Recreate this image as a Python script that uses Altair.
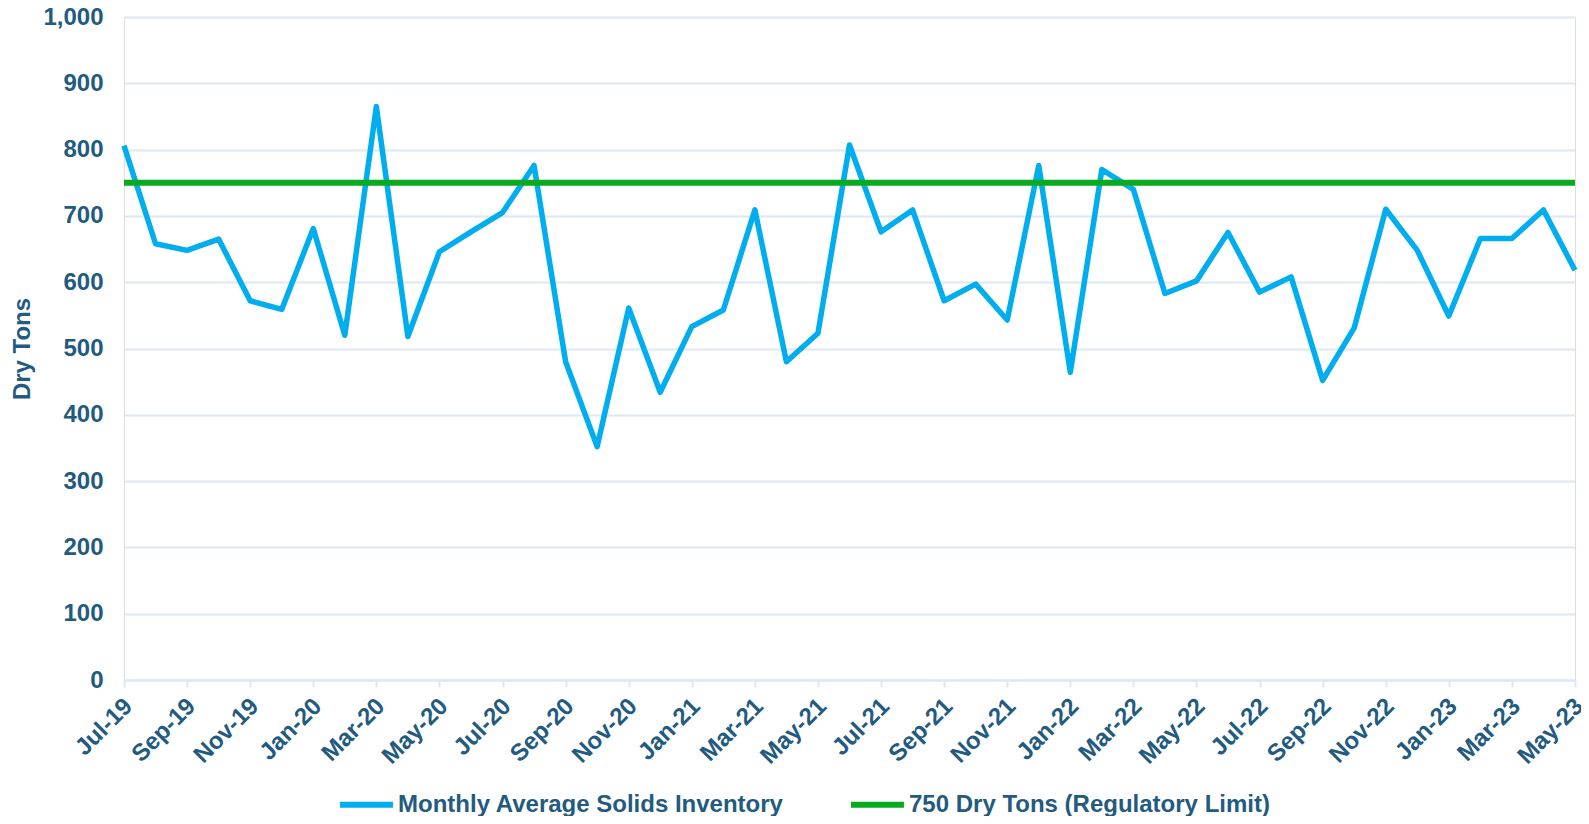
import altair as alt
import pandas as pd

months = [
    "Jul-19", "Aug-19", "Sep-19", "Oct-19", "Nov-19", "Dec-19",
    "Jan-20", "Feb-20", "Mar-20", "Apr-20", "May-20", "Jun-20",
    "Jul-20", "Aug-20", "Sep-20", "Oct-20", "Nov-20", "Dec-20",
    "Jan-21", "Feb-21", "Mar-21", "Apr-21", "May-21", "Jun-21",
    "Jul-21", "Aug-21", "Sep-21", "Oct-21", "Nov-21", "Dec-21",
    "Jan-22", "Feb-22", "Mar-22", "Apr-22", "May-22", "Jun-22",
    "Jul-22", "Aug-22", "Sep-22", "Oct-22", "Nov-22", "Dec-22",
    "Jan-23", "Feb-23", "Mar-23", "Apr-23", "May-23",
]
inventory = [
    806, 658, 648, 665, 572, 559,
    681, 520, 865, 518, 646, 676,
    705, 776, 480, 352, 561, 434,
    533, 558, 709, 480, 523, 807,
    676, 709, 572, 597, 543, 776,
    464, 770, 740, 583, 602, 675,
    585, 608, 452, 531, 710, 648,
    549, 666, 666, 709, 618,
]
limit_value = 750
series_names = ["Monthly Average Solids Inventory", "750 Dry Tons (Regulatory Limit)"]
series_colors = ["#00AEEF", "#0AAA1E"]
y_ticks = [0, 100, 200, 300, 400, 500, 600, 700, 800, 900, 1000]
x_tick_labels = months[::2]

df_inv = pd.DataFrame({"Month": months, "Value": inventory, "Series": series_names[0]})
df_lim = pd.DataFrame({"Month": months, "Value": [limit_value] * len(months), "Series": series_names[1]})

TEXT = "#235B80"
GRID = "#DCE8F4"
FONT = "Liberation Sans"
FS = 24

x_enc = alt.X(
    "Month:N",
    sort=months,
    scale=alt.Scale(type="point", padding=0),
    axis=alt.Axis(
        values=x_tick_labels,
        title=None,
        labelAngle=-45,
        labelAlign="right",
        labelBaseline="line-top",
        labelLineHeight=13,
        labelFont=FONT,
        labelFontSize=FS,
        labelFontWeight="bold",
        labelColor=TEXT,
        labelPadding=11,
        domainColor=GRID,
        domainWidth=2,
        tickColor=GRID,
        tickWidth=2,
        tickSize=7,
        grid=False,
        labelOverlap=False,
    ),
)
y_enc = alt.Y(
    "Value:Q",
    scale=alt.Scale(domain=[0, 1000], nice=False),
    axis=alt.Axis(
        values=y_ticks,
        format=",.0f",
        title="Dry Tons",
        titleFont=FONT,
        titleFontSize=FS,
        titleFontWeight="bold",
        titleColor=TEXT,
        titlePadding=8,
        labelFont=FONT,
        labelFontSize=FS,
        labelFontWeight="bold",
        labelColor=TEXT,
        labelPadding=21,
        domain=False,
        ticks=False,
        gridColor=GRID,
        gridWidth=2,
    ),
)
color_enc = alt.Color(
    "Series:N",
    scale=alt.Scale(domain=series_names, range=series_colors),
    legend=alt.Legend(
        title=None,
        orient="none",
        legendX=213,
        legendY=758,
        direction="horizontal",
        symbolType="stroke",
        symbolSize=2800,
        symbolStrokeWidth=6,
        labelFont=FONT,
        labelFontSize=FS,
        labelFontWeight="bold",
        labelColor=TEXT,
        labelLimit=0,
        labelOffset=2,
        columnPadding=55,
    ),
)

inv = alt.Chart(df_inv).mark_line(strokeWidth=5.5, strokeJoin="round").encode(
    x=x_enc, y=y_enc, color=color_enc
)
lim = alt.Chart(df_lim).mark_line(strokeWidth=6).encode(
    x=x_enc, y=y_enc, color=color_enc
)

chart = (
    alt.layer(inv, lim)
    .properties(
        width=1451,
        height=663,
        autosize=alt.AutoSizeParams(type="none"),
        padding={"left": 116, "top": 9, "right": 6, "bottom": 136},
    )
    .configure_view(stroke=None)
    .configure(background="white")
)

chart.save("out.html", embed_options={"renderer": "svg", "actions": False})
